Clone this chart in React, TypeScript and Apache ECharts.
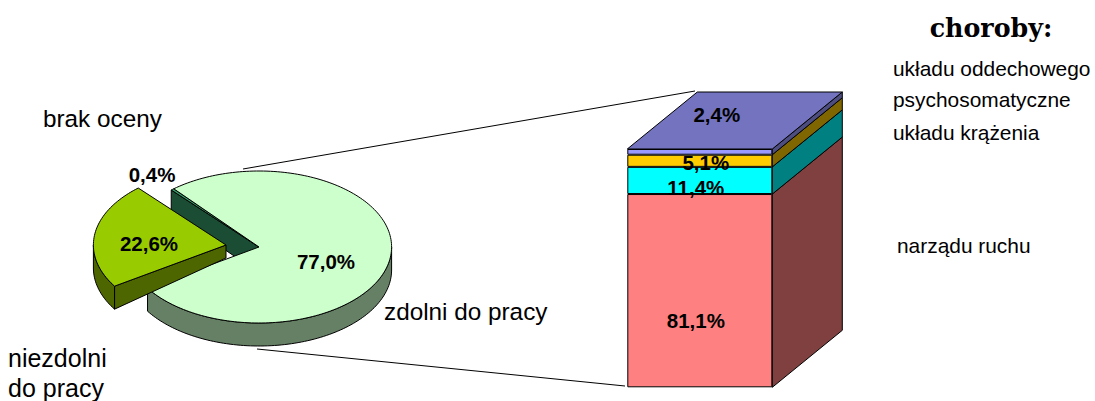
import React, { useEffect, useRef } from "react";
import * as echarts from "echarts";

// Pie: clockwise order starting at the top-left edge of the big slice
const pieNames = ["zdolni do pracy", "niezdolni do pracy", "brak oceny"];
const pieShares = [77.0, 22.6, 0.4];
const pieTopColors = ["#CCFFCC", "#99CC00", "#339966"];
const pieSideColors = ["#668066", "#4D6600", "#1A4D33"];
const pieDrawOrder = [2, 0, 1];

// Stacked column: bottom to top
const barNames = ["narządu ruchu", "układu krążenia", "psychosomatyczne", "układu oddechowego"];
const barShares = [81.1, 11.4, 5.1, 2.4];
const barColors = ["#FF8080", "#00FFFF", "#FFCC00", "#9999FF"];
const barSideColors = ["#804040", "#008080", "#806600", "#4D4D80"];
const barTopColor = "#7373BF";
const legendTitle = "choroby:";

const fmt = (v: number) => v.toFixed(1).replace(".", ",") + "%";

const RAD = Math.PI / 180;
const PIE = { cx: 259, cy: 247, rx: 132.6, ry: 76, h: 23, start: 130 };
const EXPLODE: number[][] = [[0, 0], [-33, -2], [0, 0]];
const INNER_DROP = [0, 13, 26];
const PIE_LABELS: number[][] = [[326, 261], [149, 243], [152, 174]];
const DEPTH = { x: 70, y: -57 };
const BAR_LABEL_OFFSET: number[][] = [[-4, 30], [-4, 7], [6, 2], [17, -37]];
const FF = "'Liberation Sans', Arial, sans-serif";
const STROKE = { stroke: "#000", lineWidth: 1 };

function pieRender(_: any, api: any) {
  const idx = api.value(0) as number;
  let a0 = PIE.start;
  for (let i = 0; i < idx; i++) a0 -= (pieShares[i] / 100) * 360;
  const span = (pieShares[idx] / 100) * 360;
  const a1 = a0 - span;
  const [ox, oy] = EXPLODE[idx];
  const cx = PIE.cx + ox;
  const cy = PIE.cy + oy;
  const pt = (deg: number, drop = 0): number[] => [
    cx + PIE.rx * Math.cos(deg * RAD),
    cy - PIE.ry * Math.sin(deg * RAD) + drop,
  ];
  const arc = (from: number, to: number, drop = 0) => {
    const n = Math.max(2, Math.ceil(Math.abs(to - from) / 1.5));
    const out: number[][] = [];
    for (let i = 0; i <= n; i++) out.push(pt(from + ((to - from) * i) / n, drop));
    return out;
  };
  const children: any[] = [];
  const side = pieSideColors[idx];
  const poly = (points: number[][], fill: string) =>
    children.push({ type: "polygon", shape: { points }, style: { fill, ...STROKE } });

  // cut wall along the counter-clockwise edge of a small slice faces the viewer
  if (span < 180) {
    const e = pt(a0);
    poly([[cx, cy], e, [e[0], e[1] + PIE.h], [cx, cy + INNER_DROP[idx]]], side);
  }
  // outer rim: only the front half is visible
  for (const k of [-360, 0]) {
    const from = Math.max(a1, k - 180);
    const to = Math.min(a0, k);
    if (to > from) poly([...arc(from, to), ...arc(to, from, PIE.h)], side);
  }
  // top face
  poly([[cx, cy], ...arc(a0, a1)], pieTopColors[idx]);

  return { type: "group", children };
}

function sideRender(_: any, api: any) {
  const idx = api.value(0) as number;
  let base = 0;
  for (let i = 0; i < idx; i++) base += barShares[i];
  const top = base + barShares[idx];
  const halfW = api.size([1, 0])[0] / 2;
  const b = api.coord([0, base]);
  const t = api.coord([0, top]);
  const xr = b[0] + halfW;
  const xl = b[0] - halfW;
  const children: any[] = [
    {
      type: "polygon",
      shape: {
        points: [
          [xr, b[1]],
          [xr + DEPTH.x, b[1] + DEPTH.y],
          [xr + DEPTH.x, t[1] + DEPTH.y],
          [xr, t[1]],
        ],
      },
      style: { fill: barSideColors[idx], ...STROKE },
    },
  ];
  if (idx === barShares.length - 1) {
    children.push({
      type: "polygon",
      shape: {
        points: [
          [xl, t[1]],
          [xr, t[1]],
          [xr + DEPTH.x, t[1] + DEPTH.y],
          [xl + DEPTH.x, t[1] + DEPTH.y],
        ],
      },
      style: { fill: barTopColor, ...STROKE },
    });
  }
  return { type: "group", children };
}

function textEl(text: string, x: number, y: number, size: number, extra: any = {}) {
  return {
    type: "text",
    x,
    y,
    z: 20,
    style: { text, fill: "#000", font: `${size}px ${FF}`, textVerticalAlign: "middle", ...extra },
  };
}

export default function App() {
  const ref = useRef<HTMLDivElement>(null);
  useEffect(() => {
    document.body.style.margin = "0";
    const chart = echarts.init(ref.current!, undefined, { renderer: "svg" });
    chart.setOption({
      animation: false,
      backgroundColor: "#fff",
      grid: { left: 627.3, top: 149, width: 145, height: 238.3 },
      xAxis: { type: "category", data: ["choroby"], show: false },
      yAxis: { type: "value", min: 0, max: 100, show: false },
      series: [
        {
          type: "custom",
          name: "sides",
          coordinateSystem: "cartesian2d",
          z: 1,
          silent: true,
          data: barShares.map((_, i) => [i]),
          encode: { x: -1, y: -1 },
          renderItem: sideRender,
        },
        ...barShares.map((v, i) => ({
          type: "bar",
          name: barNames[i],
          stack: "all",
          barWidth: "100%",
          z: 2,
          data: [v],
          itemStyle: { color: barColors[i], borderColor: "#000", borderWidth: 1 },
          label: {
            show: true,
            position: "inside",
            offset: BAR_LABEL_OFFSET[i],
            formatter: fmt(v),
            color: "#000",
            fontFamily: FF,
            fontWeight: "bold",
            fontSize: 20.5,
          },
        })),
        {
          type: "custom",
          name: "pie",
          coordinateSystem: "none",
          z: 3,
          silent: true,
          data: pieDrawOrder.map((i) => [i]),
          renderItem: pieRender,
        },
      ],
      graphic: [
        { type: "line", z: 0, shape: { x1: 243, y1: 169, x2: 695, y2: 91 }, style: { stroke: "#000", lineWidth: 1 } },
        { type: "line", z: 0, shape: { x1: 257, y1: 349, x2: 625, y2: 386 }, style: { stroke: "#000", lineWidth: 1 } },
        ...pieShares.map((v, i) =>
          textEl(fmt(v), PIE_LABELS[i][0], PIE_LABELS[i][1], 20.5, {
            font: `bold 20.5px ${FF}`,
            textAlign: "center",
          })
        ),
        textEl(pieNames[2], 43, 118, 24.3),
        textEl("niezdolni", 8, 358, 25),
        textEl("do pracy", 8, 388, 25),
        textEl(pieNames[0], 384, 311, 24.3),
        {
          type: "text",
          x: 991,
          y: 28,
          z: 20,
          style: {
            text: legendTitle,
            fill: "#000",
            font: "bold 25.3px 'DejaVu Serif', serif",
            textAlign: "center",
            textVerticalAlign: "middle",
          },
        },
        textEl(barNames[3], 893, 68, 20.9),
        textEl(barNames[2], 893, 99, 20.9),
        textEl(barNames[1], 893, 132, 20.9),
        textEl(barNames[0], 897, 245, 20.9),
      ],
    });
    return () => chart.dispose();
  }, []);
  return <div ref={ref} style={{ position: "fixed", left: 0, top: 0, width: 1095, height: 401 }} />;
}
